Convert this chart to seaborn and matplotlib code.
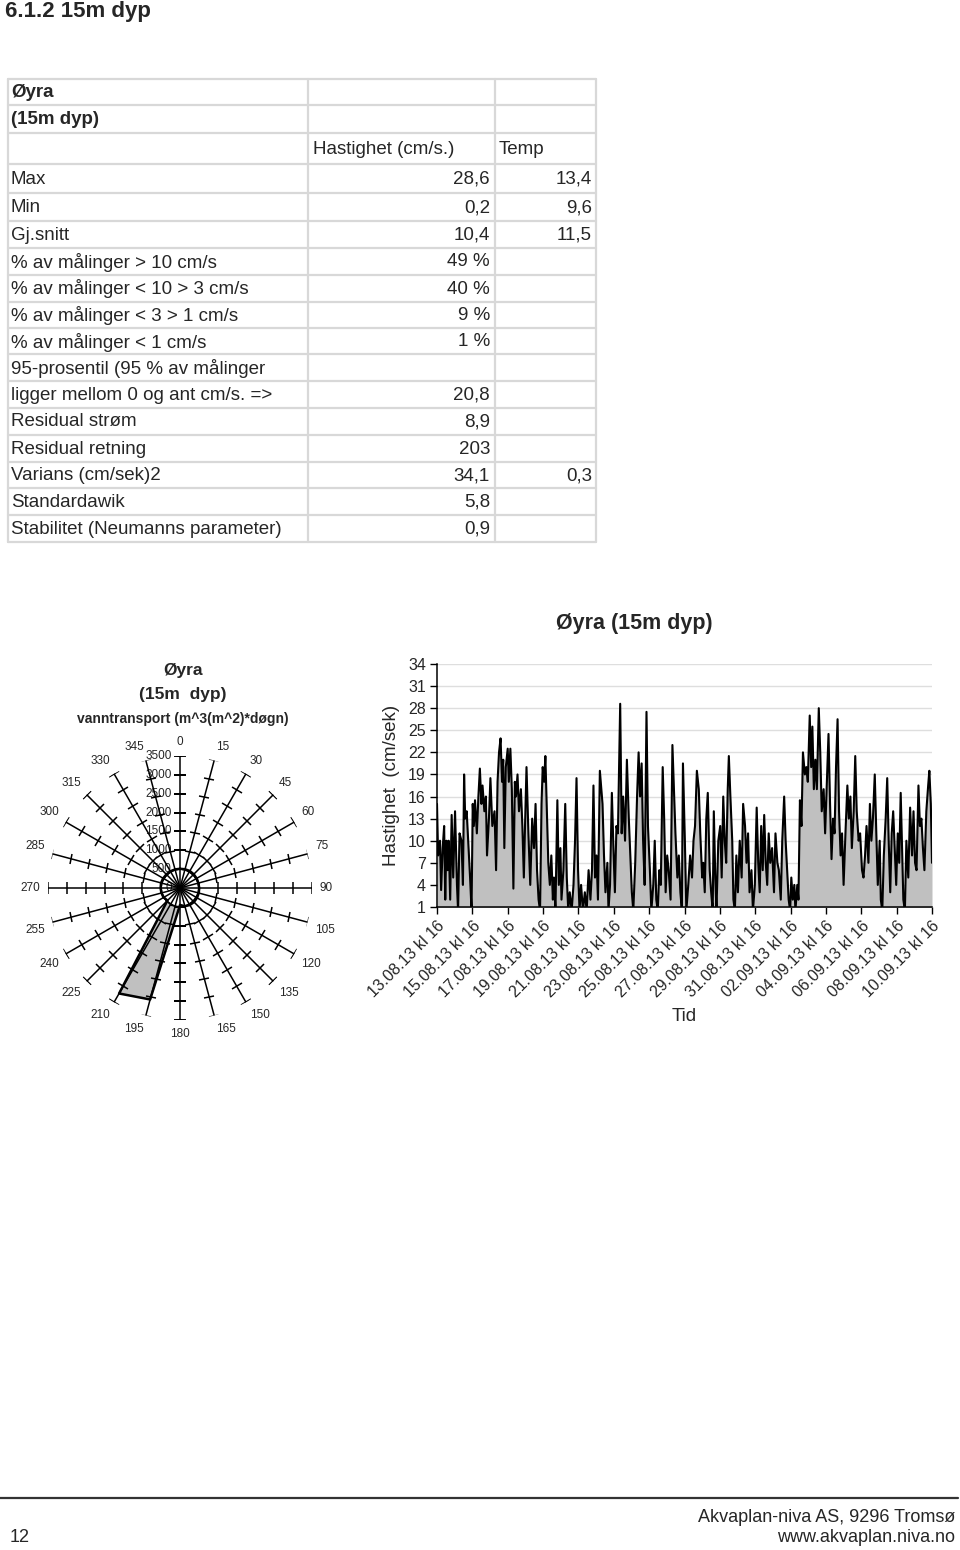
import numpy as np
import matplotlib
matplotlib.use("Agg")
import matplotlib.pyplot as plt
from matplotlib.markers import MarkerStyle
from matplotlib.transforms import Affine2D
import seaborn as sns

sns.set_theme(style="white")
plt.rcParams['font.family'] = ['Liberation Sans', 'DejaVu Sans']

# ---------------- data ----------------
page_title = "6.1.2 15m dyp"

row_labels = ["Øyra", "(15m dyp)", "", "Max", "Min", "Gj.snitt",
              "% av målinger > 10 cm/s", "% av målinger < 10 > 3 cm/s",
              "% av målinger < 3 > 1 cm/s", "% av målinger < 1 cm/s",
              "95-prosentil (95 % av målinger", "ligger mellom 0 og ant cm/s. =>",
              "Residual strøm", "Residual retning", "Varians (cm/sek)2",
              "Standardawik", "Stabilitet (Neumanns parameter)"]
col_hastighet = ["", "", "Hastighet (cm/s.)", "28,6", "0,2", "10,4", "49 %", "40 %",
                 "9 %", "1 %", "", "20,8", "8,9", "203", "34,1", "5,8", "0,9"]
col_temp = ["", "", "Temp", "13,4", "9,6", "11,5", "", "", "", "", "", "", "", "",
            "0,3", "", ""]

# water transport per direction (m^3/(m^2*døgn))
directions = [0, 15, 30, 45, 60, 75, 90, 105, 120, 135, 150, 165,
              180, 195, 210, 225, 240, 255, 270, 285, 300, 315, 330, 345]
transport = [510, 515, 520, 515, 510, 505, 510, 515, 520, 525, 520, 500,
             450, 3060, 3230, 470, 500, 510, 515, 520, 515, 510, 510, 510]
radial_ticks = [500, 1000, 1500, 2000, 2500, 3000, 3500]

# current speed time series (hours after 13.08.13 kl 16, cm/s)
hours = [0, 1.5, 4.1, 5.6, 7.7, 9.7, 11.2, 12.8, 14.3, 15.8, 17.9, 19.9, 22.0, 24.5, 27.1,
         28.6, 30.6, 33.2, 35.2, 36.8, 38.3, 40.3, 42.4, 44.9, 46.9, 48.5, 50.0, 51.6, 54.1,
         56.2, 58.2, 60.3, 61.8, 64.3, 66.4, 67.9, 70.5, 72.5, 75.1, 78.1, 80.2, 82.2, 84.2,
         86.3, 88.3, 89.9, 91.4, 93.4, 96.0, 97.5, 99.6, 101.6, 103.7, 105.7, 107.2, 109.3,
         111.3, 113.9, 115.9, 117.9, 119.5, 121.5, 124.1, 126.6, 129.2, 131.7, 133.8, 135.8,
         137.9, 139.9, 141.9, 143.5, 145.5, 147.1, 149.1, 151.1, 153.2, 155.2, 157.3, 158.8,
         160.8, 163.4, 165.4, 167.5, 169.0, 171.6, 174.1, 176.2, 178.2, 180.2, 182.8, 185.3,
         187.4, 189.4, 191.5, 193.5, 195.6, 198.1, 200.7, 203.2, 205.8, 208.3, 210.4, 212.4,
         214.5, 216.5, 218.5, 221.1, 223.1, 224.7, 226.7, 228.7, 231.3, 232.8, 234.9, 237.4,
         239.5, 241.5, 243.6, 245.6, 248.7, 250.7, 252.7, 255.3, 257.8, 260.4, 262.4, 264.5,
         266.5, 269.1, 271.6, 273.7, 275.7, 277.8, 279.8, 281.9, 284.4, 286.4, 289.0, 291.0,
         293.6, 295.6, 297.7, 299.7, 301.8, 303.8, 306.4, 308.4, 310.4, 312.5, 314.5, 317.1,
         319.6, 321.7, 323.7, 326.3, 328.3, 330.4, 332.4, 333.9, 336.5, 338.5, 341.1, 343.6,
         346.2, 348.2, 350.3, 352.8, 355.4, 357.4, 360.0, 361.5, 363.5, 365.6, 367.6, 370.2,
         372.2, 374.3, 375.8, 377.8, 379.4, 381.9, 384.5, 386.5, 388.6, 390.6, 392.6, 394.7,
         396.2, 398.3, 400.8, 402.4, 404.4, 406.4, 408.5, 411.0, 413.6, 415.6, 418.2, 420.2,
         422.3, 424.3, 426.9, 428.9, 431.5, 434.0, 436.1, 438.1, 440.1, 442.2, 444.2, 446.3,
         448.3, 450.3, 452.4, 454.9, 457.5, 459.5, 462.1, 464.1, 466.7, 468.7, 471.3, 473.3,
         475.4, 477.4, 479.4, 481.0, 483.0, 485.1, 486.6, 489.1, 490.7, 492.7, 494.8, 496.8,
         499.4, 501.4, 503.4, 506.0, 508.0, 509.6, 511.6, 513.7, 515.7, 518.3, 520.3, 522.3,
         524.9, 526.9, 529.0, 531.5, 533.6, 535.6, 537.7, 539.7, 541.7, 543.8, 545.8, 547.9,
         549.9, 552.0, 554.5, 557.1, 559.1, 561.2, 563.2, 565.7, 567.8, 569.8, 572.4, 574.4,
         577.0, 579.0, 581.1, 583.1, 585.7, 587.7, 589.7, 591.8, 594.3, 596.4, 598.4, 601.0,
         602.5, 604.5, 606.6, 609.1, 611.2, 613.2, 615.3, 617.3, 619.3, 621.4, 623.4, 625.5,
         627.5, 629.5, 631.6, 633.1, 635.2, 637.2, 639.8, 642.3, 644.9, 646.9, 649.0, 651.0,
         653.6, 655.6, 657.6, 659.7, 661.7, 664.3, 666.8, 668.4, 670.4, 672.0]
speed = [15, 8, 10, 3.3, 9, 12, 2, 10, 6, 10, 2, 13.5, 5, 14, 4,
         0.5, 11, 10, 4, 19, 13, 14, 10, 5, 0.5, 15, 12, 15.5, 11,
         16, 19.8, 15, 17.5, 14, 16, 8, 13, 18.5, 12, 14, 6, 18, 22,
         23.9, 18, 21, 9, 20, 22.5, 18, 22.5, 17, 3.5, 18, 16, 19,
         14, 17, 12, 5, 12, 20, 11, 4, 13, 9, 15, 6,
         2, 0.5, 15, 20, 18, 21.5, 14, 7, 4, 8, 2, 5,
         0.5, 15.5, 4, 9, 2, 6, 15, 5, 0.5, 3, 0.5, 4,
         10, 18.5, 6, 0.5, 4, 0.5, 3, 0.5, 6, 2, 6, 17.5,
         5, 8, 2, 19.5, 17, 15, 8, 3, 7, 0.5, 4, 16.5,
         9, 3, 12, 11, 28.6, 11, 16, 10, 21, 13, 8, 3,
         0.5, 7, 16, 22, 16, 20.5, 10, 4, 27.5, 12, 6, 0.5,
         4, 10, 2, 0.5, 6, 4, 20, 13, 3, 8, 6, 2,
         23, 17, 11, 5, 8, 3, 0.5, 20.5, 10, 0.5, 4, 8,
         5, 10, 12, 19.5, 17, 11, 5, 7, 3, 13, 16.5, 6,
         3, 0.5, 14, 5, 0.5, 10, 12, 5, 16, 10, 7, 17,
         21.5, 16, 10, 2, 0.5, 8, 3, 10, 5, 15, 12, 7,
         11, 3, 6, 0.5, 4, 14.5, 7, 3, 12, 6, 13.5, 7,
         4, 11, 7, 9, 3, 11, 7, 6, 2, 10, 16, 10,
         6, 2, 0.5, 5, 2, 4, 0.5, 4, 2, 15.5, 12, 22,
         19, 20, 18, 27, 20, 25.5, 17, 21, 17, 28, 22, 14,
         17, 11, 17, 24.5, 15, 7.5, 13, 11, 20, 26.5, 14, 8,
         11, 4, 11, 17.5, 13, 16, 9, 14, 21.5, 14, 10, 11,
         6, 5, 8, 12, 7, 15, 10, 13, 19, 11, 4, 10,
         2, 0.5, 8, 13, 18.5, 10, 3, 11, 14, 9, 4, 11,
         7, 16.5, 8, 2, 0.5, 10, 5, 14.5, 8, 14, 7, 6,
         17.5, 12, 13, 9, 6, 14, 17.5, 19.5, 15, 7]

date_labels = ["13.08.13 kl 16", "15.08.13 kl 16", "17.08.13 kl 16", "19.08.13 kl 16",
               "21.08.13 kl 16", "23.08.13 kl 16", "25.08.13 kl 16", "27.08.13 kl 16",
               "29.08.13 kl 16", "31.08.13 kl 16", "02.09.13 kl 16", "04.09.13 kl 16",
               "06.09.13 kl 16", "08.09.13 kl 16", "10.09.13 kl 16"]
y_ticks = [1, 4, 7, 10, 13, 16, 19, 22, 25, 28, 31, 34]

# ---------------- figure ----------------
W, H = 960, 1550
fig = plt.figure(figsize=(W / 100, H / 100), dpi=100)
fig.patch.set_facecolor("white")

bg = fig.add_axes([0, 0, 1, 1], zorder=-1)
bg.set_xlim(0, W)
bg.set_ylim(H, 0)
bg.axis("off")

bg.text(5, 12, page_title, fontsize=16, fontweight="bold", va="center", ha="left")

# ---- table ----
row_edges = [79, 104.5, 133, 163.5, 193, 220.5, 247.5, 274.5, 301.5, 328, 354,
             380.5, 407.5, 434.5, 461.5, 488, 514.5, 542]
col_edges = [8, 308, 495, 596]
grid_c = "#d8d8d8"
for y in row_edges:
    bg.plot([col_edges[0], col_edges[-1]], [y, y], color=grid_c, lw=1.6)
for x in col_edges:
    bg.plot([x, x], [row_edges[0], row_edges[-1]], color=grid_c, lw=1.6)
fs_tab = 13.5
for i, lab in enumerate(row_labels):
    yc = (row_edges[i] + row_edges[i + 1]) / 2 + 1
    bold = i < 2
    bg.text(11, yc, lab, fontsize=fs_tab, va="center", ha="left",
            fontweight="bold" if bold else "normal")
    h = col_hastighet[i]
    t = col_temp[i]
    if i == 2:
        bg.text(313, yc, h, fontsize=fs_tab, va="center", ha="left")
        bg.text(499, yc, t, fontsize=fs_tab, va="center", ha="left")
    else:
        if h:
            bg.text(490, yc, h, fontsize=fs_tab, va="center", ha="right")
        if t:
            bg.text(592, yc, t, fontsize=fs_tab, va="center", ha="right")

# ---- polar (radar) chart ----
cx, cy, R = 180, 888, 132
bg.text(183, 670, "Øyra", fontsize=12.5, fontweight="bold", ha="center", va="center")
bg.text(183, 695, "(15m  dyp)", fontsize=12.5, fontweight="bold", ha="center", va="center")
bg.text(183, 719, "vanntransport (m^3(m^2)*døgn)", fontsize=10, fontweight="bold",
        ha="center", va="center")

axp = fig.add_axes([(cx - R) / W, (H - cy - R) / H, 2 * R / W, 2 * R / H],
                   projection="polar")
axp.set_theta_zero_location("N")
axp.set_theta_direction(-1)
axp.set_ylim(0, max(radial_ticks))
axp.grid(False)
axp.set_xticks([])
axp.set_yticks([])
axp.spines["polar"].set_visible(False)
axp.patch.set_alpha(0)

th = np.deg2rad(directions)
th_c = np.append(th, th[0])
tr_c = np.append(transport, transport[0])
axp.fill(th_c, tr_c, color="#c0c0c0", zorder=1)
# inner part of the polygon is left white, as in the original radar chart
axp.fill(th_c, np.minimum(tr_c, min(radial_ticks)), color="white", zorder=1.5)
axp.plot(th_c, tr_c, color="black", lw=1.8, zorder=4)

rmax = max(radial_ticks)
for d, t in zip(directions, th):
    axp.plot([t, t], [0, rmax], color="black", lw=1.1, zorder=3)
    m = MarkerStyle("|", transform=Affine2D().rotate_deg(90 - d))
    axp.plot([t] * len(radial_ticks), radial_ticks, ls="none", marker=m,
             markersize=8, markeredgewidth=1.1, color="black", zorder=3)
    s, c = np.sin(np.deg2rad(d)), np.cos(np.deg2rad(d))
    ha = "left" if s > 0.1 else ("right" if s < -0.1 else "center")
    va = "bottom" if c > 0.1 else ("top" if c < -0.1 else "center")
    axp.text(t, rmax * 1.06, str(d), fontsize=8.5, ha=ha, va=va, clip_on=False)

for r in [0] + radial_ticks:
    axp.annotate(str(r), xy=(0, r), xytext=(-6, 0), textcoords="offset points",
                 ha="right", va="center", fontsize=8.5, annotation_clip=False, zorder=2)

# ---- time series ----
L, T, Rr, B = 437, 664, 932, 907
ax = fig.add_axes([L / W, (H - B) / H, (Rr - L) / W, (B - T) / H])
ax.fill_between(hours, speed, 0, color="#c0c0c0", zorder=1, lw=0)
sns.lineplot(x=hours, y=speed, ax=ax, color="black", lw=1.5, sort=False,
             estimator=None, zorder=2)
ax.set_ylim(min(y_ticks), max(y_ticks))
ax.set_xlim(0, 24 * 2 * (len(date_labels) - 1))
ax.set_yticks(y_ticks)
ax.set_yticklabels([str(v) for v in y_ticks], fontsize=11.5)
ax.set_xticks([48 * i for i in range(len(date_labels))])
ax.set_xticklabels(date_labels, rotation=45, ha="right", va="top",
                   rotation_mode="anchor", fontsize=11.5)
for v in y_ticks[1:]:
    ax.axhline(v, color="#dedede", lw=1, zorder=0)
for side in ["top", "right"]:
    ax.spines[side].set_visible(False)
for side in ["left", "bottom"]:
    ax.spines[side].set_color("black")
    ax.spines[side].set_linewidth(1.1)
ax.tick_params(axis="both", direction="out", length=5, width=1, color="black",
               bottom=True, left=True, pad=3)
ax.set_ylabel("Hastighet  (cm/sek)", fontsize=13.5, labelpad=6)
ax.set_xlabel("Tid", fontsize=13.5, labelpad=6)
ax.set_facecolor("white")

bg.text((L + Rr) / 2 - 50, 624, "Øyra (15m dyp)", fontsize=15.5, fontweight="bold",
        ha="center", va="center")

# ---- footer ----
bg.plot([0, 958], [1498, 1498], color="#333333", lw=1.6)
bg.text(10, 1537, "12", fontsize=13, ha="left", va="center")
bg.text(955, 1518, "Akvaplan-niva AS, 9296 Tromsø", fontsize=13, ha="right", va="center")
bg.text(955, 1538, "www.akvaplan.niva.no", fontsize=13, ha="right", va="center")

fig.savefig("out.png", dpi=100, facecolor="white")
